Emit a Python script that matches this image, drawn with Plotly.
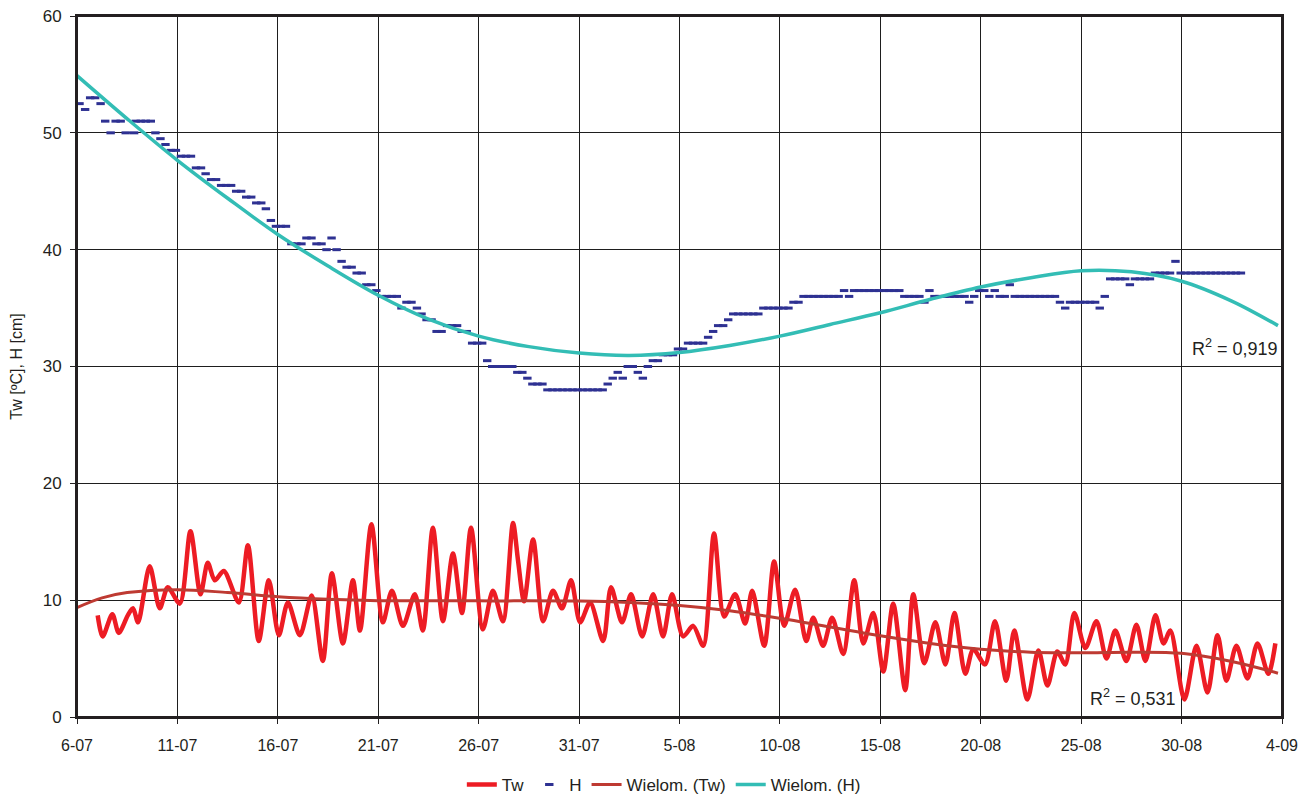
import numpy as np
import pandas as pd
import plotly.graph_objects as go

START = pd.Timestamp("2008-07-06")

# ---- Tw: water temperature, read as alternating daily extremes (day offset from 6-07) ----
tw_day = [1.03, 1.28, 1.76, 2.08, 2.53, 2.79, 3.04, 3.62, 4.12, 4.52, 5.12, 5.65, 6.15, 6.51,
          6.86, 7.31, 8.06, 8.51, 9.05, 9.55, 10.05, 10.50, 11.10, 11.69, 12.24, 12.69, 13.24,
          13.74, 14.09, 14.66, 15.23, 15.68, 16.23, 16.82, 17.22, 17.72, 18.22, 18.72, 19.17,
          19.62, 20.21, 20.71, 21.21, 21.71, 21.96, 22.26, 22.71, 23.21, 23.70, 24.15, 24.60,
          25.05, 25.55, 26.20, 26.59, 27.14, 27.59, 28.14, 28.69, 29.18, 29.63, 30.18, 30.68,
          31.18, 31.72, 32.22, 32.77, 33.27, 33.62, 34.22, 34.71, 35.21, 35.76, 36.31, 36.66,
          37.15, 37.60, 38.15, 38.70, 39.15, 39.65, 40.15, 40.64, 41.24, 41.64, 42.19, 42.74,
          43.24, 43.69, 44.23, 44.63, 45.21, 45.71, 46.27, 46.67, 47.32, 47.87, 48.32, 48.81,
          49.21, 49.66, 50.21, 50.76, 51.26, 51.70, 52.25, 52.75, 53.20, 53.70, 54.10, 54.44,
          55.14, 55.74, 56.29, 56.79, 57.23, 57.73, 58.28, 58.78, 59.32, 59.67]
tw_val = [8.7, 6.9, 8.8, 7.2, 8.7, 9.3, 8.1, 12.9, 9.3, 11.1, 9.7, 15.9, 10.5, 13.2,
          11.7, 12.5, 9.8, 14.7, 6.5, 11.7, 7.0, 9.8, 7.0, 10.4, 4.8, 12.3, 6.3,
          11.7, 7.4, 16.5, 8.1, 10.8, 7.8, 10.5, 7.4, 16.2, 8.2, 14.0, 8.9,
          16.2, 7.5, 10.8, 8.2, 16.6, 13.4, 9.9, 15.2, 8.2, 10.8, 9.3, 11.7,
          8.1, 9.8, 6.5, 11.1, 8.1, 10.5, 6.9, 10.5, 6.9, 10.5, 6.9, 7.8,
          6.1, 15.7, 8.6, 10.5, 8.0, 10.8, 6.1, 13.3, 7.8, 10.9, 6.5, 8.5,
          6.1, 8.5, 5.4, 11.7, 6.3, 8.9, 3.9, 9.7, 2.3, 10.5, 4.6, 8.1,
          4.5, 8.9, 3.7, 5.8, 4.5, 8.2, 3.1, 7.4, 1.5, 5.7, 2.7, 5.6,
          4.5, 8.9, 5.9, 8.2, 5.0, 7.4, 4.8, 7.9, 4.8, 8.7, 6.3, 7.4,
          1.5, 6.1, 2.1, 7.0, 3.1, 6.1, 3.3, 6.3, 3.7, 6.3]

# ---- H: water level, read as runs of constant level (6-hourly samples) ----
h_from = [0.00, 0.28, 0.53, 1.05, 1.28, 1.55, 1.80, 2.30, 2.72, 2.80, 3.78, 4.03, 4.28, 4.55,
          5.05, 5.80, 6.28, 6.55, 7.05, 7.80, 8.30, 8.80, 9.28, 9.53, 9.78, 10.55, 11.30,
          11.80, 12.30, 12.55, 12.80, 13.05, 13.30, 13.80, 14.28, 14.78, 15.05, 16.03, 16.28,
          16.80, 17.03, 17.28, 17.78, 18.30, 19.03, 19.55, 20.30, 20.55, 21.80, 22.30, 22.55,
          23.30, 26.30, 26.55, 26.80, 27.05, 27.30, 27.80, 28.05, 28.30, 28.55, 29.05, 29.80,
          30.30, 31.30, 31.55, 31.80, 32.30, 32.55, 34.05, 35.55, 36.05, 38.07, 38.32, 38.57,
          41.07, 42.07, 42.32, 42.57, 44.30, 44.55, 44.80, 45.30, 45.57, 45.82, 46.32, 46.57,
          48.82, 49.08, 49.32, 50.80, 51.05, 51.32, 52.30, 52.55, 53.55, 54.57, 54.83]
h_to = [0.28, 0.53, 1.05, 1.28, 1.55, 1.80, 2.30, 2.57, 2.98, 3.78, 4.03, 4.28, 4.55, 5.05,
        5.80, 6.28, 6.55, 7.05, 7.80, 8.30, 8.80, 9.28, 9.53, 9.78, 10.55, 11.30, 11.80,
        12.30, 12.55, 12.80, 13.05, 13.30, 13.80, 14.28, 14.78, 15.05, 16.03, 16.28, 16.80,
        17.03, 17.28, 17.78, 18.30, 19.03, 19.55, 20.30, 20.55, 21.80, 22.30, 22.55, 23.30,
        26.30, 26.55, 26.80, 27.05, 27.30, 27.80, 28.05, 28.30, 28.55, 29.05, 29.80, 30.30,
        31.30, 31.55, 31.80, 32.30, 32.55, 34.05, 35.55, 36.05, 38.07, 38.32, 38.57, 41.07,
        42.07, 42.32, 42.57, 44.30, 44.55, 44.80, 45.30, 45.57, 45.82, 46.32, 46.57, 48.82,
        49.08, 49.32, 50.80, 51.05, 51.32, 52.30, 52.55, 53.55, 54.57, 54.83, 58.07]
h_level = [52.5, 52.0, 53.0, 52.5, 51.0, 50.0, 51.0, 50.0, 50.0, 51.0, 50.0, 49.5, 49.0, 48.5,
           48.0, 47.0, 46.5, 46.0, 45.5, 45.0, 44.5, 44.0, 43.5, 42.5, 42.0, 40.5, 41.0,
           40.5, 40.0, 41.0, 40.0, 39.0, 38.5, 38.0, 37.0, 36.5, 36.0, 35.0, 35.5,
           35.0, 34.5, 34.0, 33.0, 33.5, 33.0, 32.0, 30.5, 30.0, 29.5, 29.0, 28.5,
           28.0, 28.5, 29.0, 29.5, 29.0, 30.0, 29.5, 29.0, 30.0, 30.5, 31.0, 31.5,
           32.0, 32.5, 33.0, 33.5, 34.0, 34.5, 35.0, 35.5, 36.0, 36.5, 36.0, 36.5,
           36.0, 35.5, 36.5, 36.0, 35.5, 36.0, 36.5, 36.0, 36.5, 36.0, 37.0, 36.0,
           35.5, 35.0, 35.5, 35.0, 36.0, 37.5, 37.0, 37.5, 38.0, 39.0, 38.0]

# ---- polynomial trend lines (Wielom.) ----
tw_trend_day = [0.0, 1.25, 2.5, 5.0, 7.5, 10.0, 12.5, 15.0, 20.0, 25.0, 27.5, 30.0, 32.5,
                35.0, 37.5, 40.0, 42.5, 45.0, 47.5, 50.0, 52.5, 55.0, 57.5, 59.8]
tw_trend_val = [9.37, 10.2, 10.65, 10.9, 10.65, 10.3, 10.08, 9.96, 9.94, 9.92, 9.8, 9.55, 9.1,
                8.45, 7.7, 6.95, 6.3, 5.8, 5.55, 5.5, 5.55, 5.45, 4.75, 3.75]
h_trend_day = [0.0, 2.5, 5.0, 7.5, 10.0, 12.5, 15.0, 17.5, 20.0, 22.5, 25.0, 27.5, 30.0,
               32.5, 35.0, 37.5, 40.0, 42.5, 45.0, 47.5, 50.0, 52.5, 55.0, 57.5, 59.8]
h_trend_val = [54.9, 51.2, 47.65, 44.4, 41.3, 38.6, 36.1, 34.05, 32.6, 31.7, 31.15, 30.95, 31.2,
               31.8, 32.6, 33.6, 34.6, 35.75, 36.8, 37.6, 38.2, 38.1, 37.3, 35.6, 33.5]

r2_h = "0,919"
r2_tw = "0,531"
x_days_total = 60
tick_step_days = 5


def to_dt(days):
    return START + pd.to_timedelta(np.asarray(days, dtype=float), unit="D")


h_t, h_v = [], []
for a, b, v in zip(h_from, h_to, h_level):
    t = np.arange(a + 0.125, b - 0.01, 0.25)
    h_t.extend(t.tolist())
    h_v.extend([v] * len(t))

FONT = "Liberation Sans, Arial, sans-serif"
INK = "#231F20"

fig = go.Figure()
fig.add_trace(go.Scatter(x=to_dt(tw_day), y=tw_val, mode="lines", name="Tw",
                         line=dict(color="#ED1C24", width=4.5, shape="spline", smoothing=0.8)))
fig.add_trace(go.Scatter(x=to_dt(h_t), y=h_v, mode="markers", name="H",
                         marker=dict(symbol="line-ew", size=6, color="#2E3192",
                                     line=dict(width=3, color="#2E3192"))))
fig.add_trace(go.Scatter(x=to_dt(tw_trend_day), y=tw_trend_val, mode="lines", name="Wielom. (Tw)",
                         line=dict(color="#BE3A32", width=3, shape="spline", smoothing=1.0)))
fig.add_trace(go.Scatter(x=to_dt(h_trend_day), y=h_trend_val, mode="lines", name="Wielom. (H)",
                         line=dict(color="#33BDB5", width=3.5, shape="spline", smoothing=1.0)))

fig.add_annotation(xref="paper", x=0.998, xanchor="right", y=31.6, yanchor="middle",
                   text="R<sup>2</sup> = " + r2_h, showarrow=False,
                   font=dict(family=FONT, size=18, color=INK))
fig.add_annotation(x=to_dt([54.8])[0], xanchor="right", y=1.7, yanchor="middle",
                   text="R<sup>2</sup> = " + r2_tw, showarrow=False,
                   font=dict(family=FONT, size=18, color=INK))

# plot frame
fig.add_shape(type="rect", xref="paper", yref="paper", x0=0, y0=0, x1=1, y1=1,
              line=dict(color=INK, width=2), fillcolor="rgba(0,0,0,0)", layer="above")

# the page body adds an 8 px margin on the left/top of the figure
fig.update_layout(
    width=1297, height=790,
    margin=dict(l=69, r=23, t=8, b=81, autoexpand=False),
    paper_bgcolor="white", plot_bgcolor="white",
    font=dict(family=FONT, size=16, color=INK),
    showlegend=True,
    legend=dict(orientation="h", x=0.487, xanchor="center", y=-0.097, yanchor="middle",
                font=dict(family=FONT, size=17, color=INK), itemwidth=30, tracegroupgap=0),
)
fig.update_xaxes(
    type="date", automargin=False,
    range=[START, START + pd.Timedelta(days=x_days_total)],
    tick0=START, dtick=tick_step_days * 86400000, tickformat="%-d-%m",
    showgrid=True, gridcolor="#1e1e1e", gridwidth=1,
    showline=True, linecolor=INK, linewidth=2, mirror=True,
    ticks="outside", ticklen=5, tickcolor=INK,
    tickfont=dict(family=FONT, size=16, color=INK), ticklabelstandoff=8,
    ticklabeloverflow="allow", zeroline=False,
)
fig.update_yaxes(
    range=[0, 60], dtick=10, automargin=False,
    showgrid=True, gridcolor="#1e1e1e", gridwidth=1,
    showline=True, linecolor=INK, linewidth=2, mirror=True,
    ticks="outside", ticklen=5, tickcolor=INK,
    tickfont=dict(family=FONT, size=17, color=INK), ticklabelstandoff=5,
    ticklabeloverflow="allow",
    title=dict(text="Tw [ºC], H [cm]", font=dict(family=FONT, size=16, color=INK), standoff=20),
    zeroline=False,
)

fig.write_html("out.html")
